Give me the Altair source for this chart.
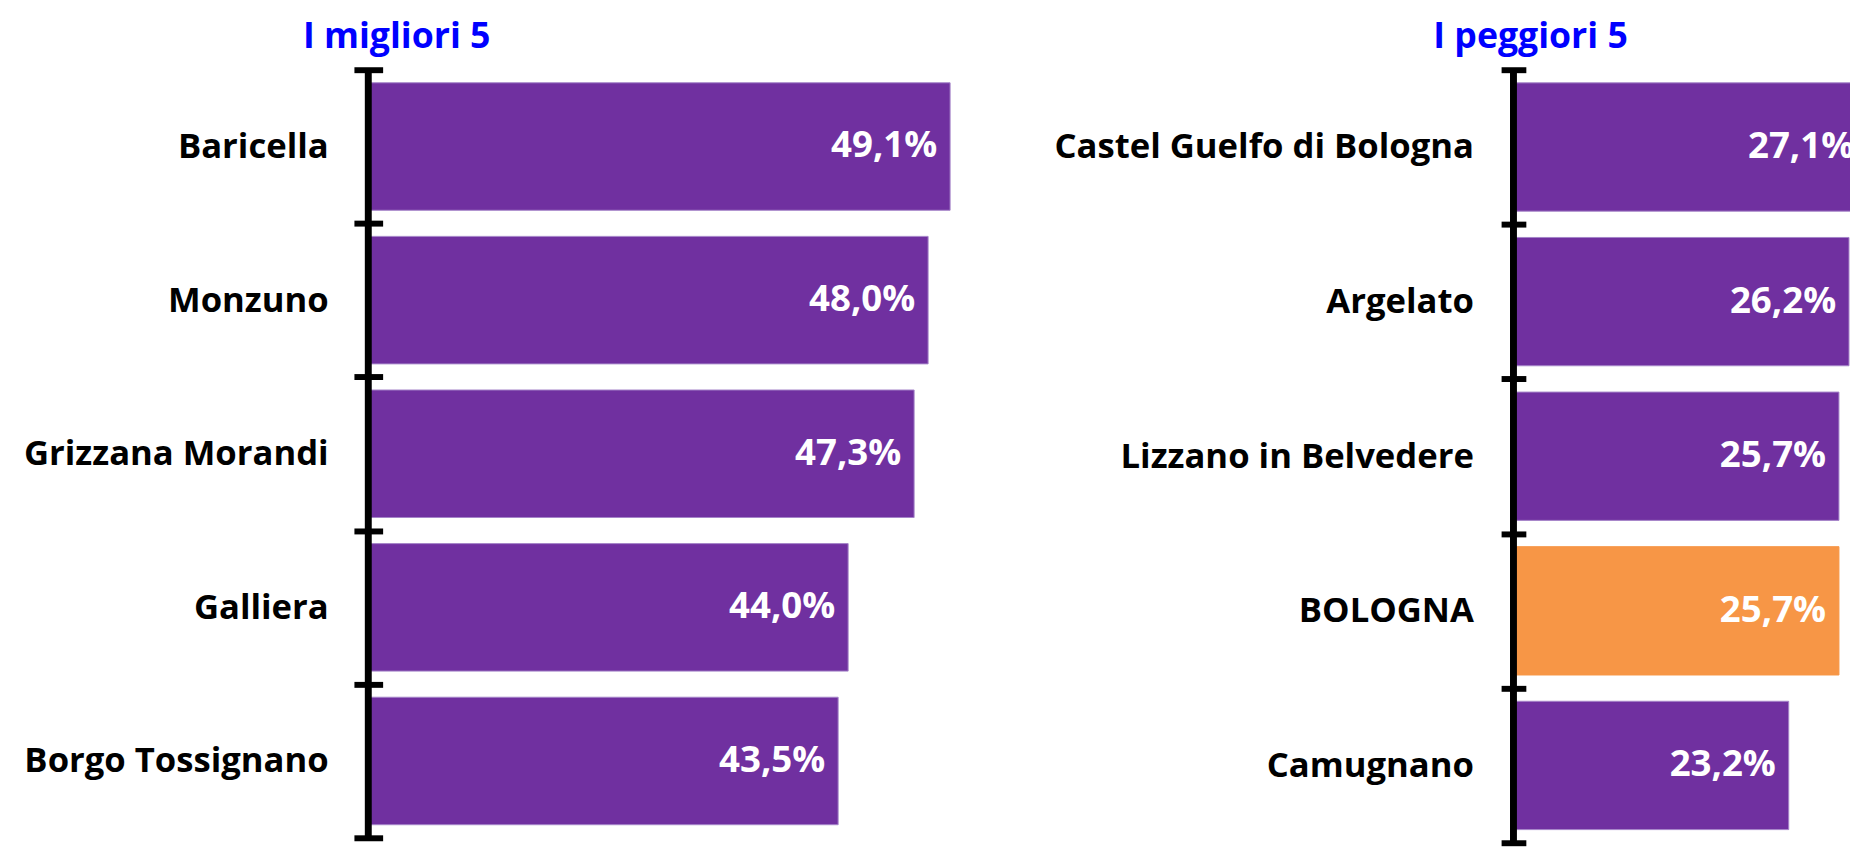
import altair as alt
import pandas as pd

# ---- data ----
best_names = ["Baricella", "Monzuno", "Grizzana Morandi", "Galliera", "Borgo Tossignano"]
best_values = [49.1, 48.0, 47.3, 44.0, 43.5]

worst_names = ["Castel Guelfo di Bologna", "Argelato", "Lizzano in Belvedere", "BOLOGNA", "Camugnano"]
worst_values = [27.1, 26.2, 25.7, 25.7, 23.2]

highlight = "BOLOGNA"
titles = ["I migliori 5", "I peggiori 5"]

PURPLE = "#7030A0"
PURPLE_EDGE = "#A585C8"
ORANGE = "#F79646"
TITLE_BLUE = "#0000FF"
FONT = "Open Sans"


def panel(names, values, title, xmin, xmax, width, height, tick, label_pad,
          title_dx, title_offset):
    df = pd.DataFrame({"name": names, "value": values})
    df["fill"] = [ORANGE if n == highlight else PURPLE for n in names]
    df["edge"] = [ORANGE if n == highlight else PURPLE_EDGE for n in names]

    xscale = alt.Scale(domain=[xmin, xmax], nice=False, zero=False)
    x = alt.X("value:Q", scale=xscale, axis=None)
    y = alt.Y(
        "name:N",
        sort=names,
        scale=alt.Scale(paddingInner=0, paddingOuter=0),
        axis=alt.Axis(
            title=None,
            domain=False,
            tickBand="extent",
            tickSize=tick,
            offset=-tick / 2,
            tickWidth=6,
            tickColor="black",
            labelFont=FONT,
            labelFontWeight="bold",
            labelFontSize=35,
            labelColor="black",
            labelPadding=label_pad,
            labelLimit=700,
        ),
    )
    base = alt.Chart(df)
    bars = base.mark_bar(
        clip=True, strokeWidth=1, height=alt.RelativeBandSize(0.83)
    ).encode(
        y=y,
        x=x,
        color=alt.Color("fill:N", scale=None),
        stroke=alt.Stroke("edge:N", scale=None),
    )
    text = base.transform_calculate(
        label="replace(format(datum.value, '.1f'), '.', ',') + '%'"
    ).mark_text(
        clip=True, align="right", baseline="middle", dx=-13,
        font=FONT, fontWeight="bold", fontSize=37, color="white",
    ).encode(y=y, x=x, text="label:N")
    rule = alt.Chart(pd.DataFrame({"value": [xmin]})).mark_rule(
        strokeWidth=7, color="black"
    ).encode(x=alt.X("value:Q", scale=xscale, axis=None))

    return alt.layer(bars, text, rule).properties(
        width=width,
        height=height,
        title=alt.TitleParams(
            title,
            anchor="start",
            frame="group",
            dx=title_dx,
            offset=title_offset,
            font=FONT,
            fontSize=36,
            fontWeight="bold",
            color=TITLE_BLUE,
        ),
    )


left = panel(best_names, best_values, titles[0], 20, 50, 606, 776, 29, 26, -66, -3)
right = panel(worst_names, worst_values, titles[1], 9.5, 26.25, 340, 781, 25, 28, -81, -3)

chart = alt.hconcat(left, right, spacing=86).properties(
    padding={"left": 15, "top": 7, "right": 0, "bottom": 0}
).configure_view(stroke=None)

chart.save("out.html", embed_options={"renderer": "svg", "actions": False})
